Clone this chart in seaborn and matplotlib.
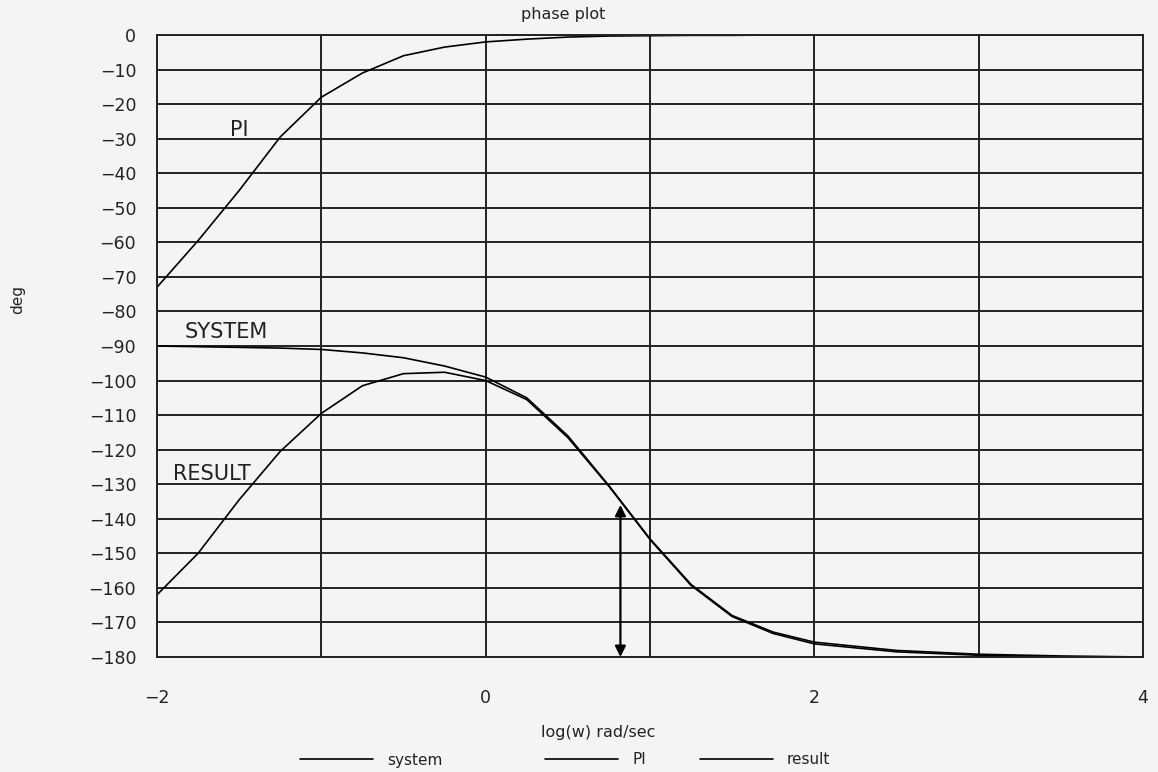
import numpy as np
import pandas as pd
import matplotlib
matplotlib.use("Agg")
import matplotlib.pyplot as plt
import seaborn as sns

# ---- data ----
log_w = [-2.0, -1.75, -1.5, -1.25, -1.0, -0.75, -0.5, -0.25, 0.0, 0.25, 0.5,
         0.75, 1.0, 1.25, 1.5, 1.75, 2.0, 2.5, 3.0, 3.5, 4.0]
system_deg = [-90.0, -90.2, -90.4, -90.6, -91.0, -92.0, -93.4, -95.8, -99.0,
              -105.0, -116.0, -130.4, -145.8, -159.0, -168.0, -172.8, -175.7,
              -178.1, -179.2, -179.7, -180.0]
pi_deg = [-73.0, -59.5, -45.0, -29.5, -18.0, -11.0, -6.0, -3.5, -2.0, -1.2,
          -0.6, -0.3, -0.2, -0.1, -0.1, 0.0, 0.0, 0.0, 0.0, 0.0, 0.0]
result_deg = [-162.0, -150.0, -134.5, -120.5, -109.5, -101.5, -98.0, -97.6,
              -100.0, -105.5, -116.5, -130.6, -146.0, -159.3, -168.3, -173.2,
              -176.2, -178.5, -179.5, -180.0, -180.2]
series_names = ["system", "PI", "result"]
x_ticks = [-2, -1, 0, 1, 2, 3, 4]
x_tick_labels = ["\u22122", "", "0", "", "2", "", "4"]
y_ticks = list(range(0, -181, -10))

df = pd.DataFrame({"log_w": log_w, "system": system_deg, "PI": pi_deg,
                   "result": result_deg})

sns.set_style("white")
plt.rcParams["font.family"] = ["DejaVu Sans"]

fig = plt.figure(figsize=(11.58, 7.72), dpi=100, facecolor="#f4f4f4")
ax = fig.add_axes([157 / 1158, 1 - 657 / 772, 986 / 1158, 622 / 772])
ax.set_facecolor("#f4f4f4")

for col in series_names:
    sns.lineplot(data=df, x="log_w", y=col, ax=ax, color="black",
                 linewidth=1.2, label=col, legend=False)

ax.set_xlim(-2, 4)
ax.set_ylim(-180, 0)
ax.set_xticks(x_ticks)
ax.set_xticklabels(x_tick_labels)
ax.set_yticks(y_ticks)
ax.set_yticklabels([("\u2212" + str(-v)) if v < 0 else "0" for v in y_ticks])
ax.tick_params(axis="both", direction="out", length=9, width=1.4,
               color="#222222", labelsize=12.5, labelcolor="#222222", pad=6)
ax.tick_params(axis="x", pad=14)
ax.grid(True, color="#222222", linewidth=1.4)
for s in ax.spines.values():
    s.set_color("#222222")
    s.set_linewidth(1.4)

ax.set_xlabel("log(w) rad/sec", fontsize=11.5, color="#222222")
ax.xaxis.set_label_coords(0.447, -0.11)
ax.set_ylabel("deg", fontsize=11, color="#222222")
ax.yaxis.set_label_coords(-0.134, 0.574)

# curve labels
ax.text(-1.5, -27.5, "PI", fontsize=15, color="#222222", ha="center",
        va="center")
ax.text(-1.83, -86, "SYSTEM", fontsize=15, color="#222222", ha="left",
        va="center")
ax.text(-1.9, -127, "RESULT", fontsize=15, color="#222222", ha="left",
        va="center")

# margin arrow
ax.annotate("", xy=(0.82, -180), xytext=(0.82, -136),
            arrowprops=dict(arrowstyle="<|-|>", color="black", lw=1.6,
                            mutation_scale=16, shrinkA=0, shrinkB=0))

fig.text(563 / 1158, 1 - 15 / 772, "phase plot", fontsize=11.5,
         color="#222222", ha="center", va="center")

# legend entries, placed as in the reference
handles, labels = ax.get_legend_handles_labels()
legend_left_px = [300, 545, 700]
for h, l, xp in zip(handles, labels, legend_left_px):
    leg = fig.legend([h], [l], loc="center left",
                     bbox_to_anchor=(xp / 1158, 1 - 760 / 772),
                     frameon=False, handlelength=4.8, borderpad=0,
                     borderaxespad=0, handletextpad=0.9, fontsize=11,
                     labelcolor="#222222")

fig.savefig("out.png", dpi=100, facecolor=fig.get_facecolor())
